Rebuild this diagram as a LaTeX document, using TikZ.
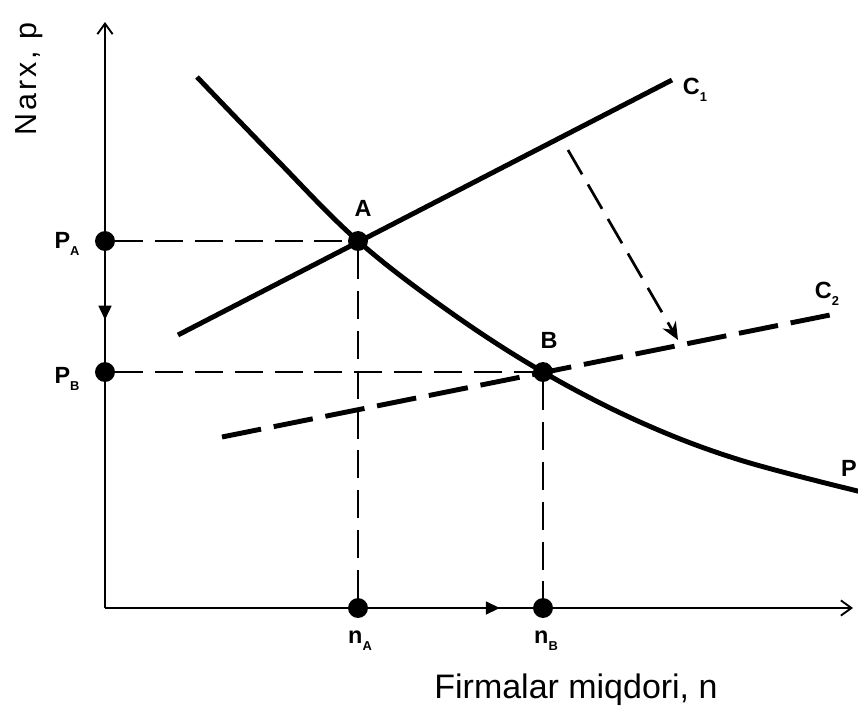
\documentclass[tikz,border=0pt]{standalone}
\usepackage{fontspec}
\setmainfont{Liberation Sans}
\newfontfamily\spacedfont[LetterSpace=10]{Liberation Sans}
\usetikzlibrary{arrows.meta,decorations.markings}
\newcommand{\lowidx}[1]{\raisebox{-0.3em}{\fontsize{11}{11}\selectfont #1}}

\begin{document}
\begin{tikzpicture}[x=0.03cm,y=-0.03cm,
  every node/.style={font=\fontsize{20}{22}\selectfont\bfseries},
  axis/.style={black,line width=1.6pt,-{Straight Barb[length=9pt,width=13pt]}},
  curve/.style={black,line width=4.2pt},
  shiftcurve/.style={curve,dash pattern=on 34pt off 11pt},
  guide/.style={black,line width=2.3pt,dash pattern=on 24pt off 10pt},
  shiftarrow/.style={guide,-{Stealth[length=15pt,width=13pt]}},
  dot/.style={circle,fill=black,inner sep=0pt,minimum size=17pt},
  move/.style={black,line width=1.6pt,postaction={decorate},
    decoration={markings,
      mark=at position #1 with {\arrow{Triangle[length=12pt,width=11pt]}}}},
  title/.style={font=\fontsize{29}{31}\selectfont}]
  % equilibrium points before and after the cost shift
  \def\ax{358}
  \def\ay{241}
  \def\bx{543}
  \def\by{372}

  \useasboundingbox (0,0) rectangle (858,717);

  \coordinate (O) at (105,608);
  \draw[axis] (O) -- (105,22);
  \draw[axis] (O) -- (853,608);
  \node[title,rotate=90] (ylab) at (29,79) {\fontsize{26}{28}\spacedfont Narx, p};
  \node[title] (xlab) at (576,690) {Firmalar miqdori, n};

  % price curve P and the two cost curves
  \draw[curve] plot[smooth,tension=0.6] coordinates
    {(197,77) (275,158) (\ax,\ay) (450,312) (\bx,\by) (640,422) (740,460) (870,494)};
  \draw[curve] (178,335) -- (672,80);
  \draw[shiftcurve] (222,437) -- (840,313);
  \coordinate (s1) at (568,150);
  \coordinate (s2) at (678,340);
  \draw[shiftarrow] (s1) -- (s2);

  % marked points on the curves and the axes
  \node[dot] (A) at (\ax,\ay) {};
  \node[dot] (B) at (\bx,\by) {};
  \node[dot] (PA) at (105,\ay) {};
  \node[dot] (PB) at (105,\by) {};
  \node[dot] (nA) at (\ax,608) {};
  \node[dot] (nB) at (\bx,608) {};

  \draw[guide] (PA) -- (A);
  \draw[guide] (PB) -- (B);
  \draw[guide] (A) -- (nA);
  \draw[guide] (B) -- (nB);
  \draw[move=0.62] (PA) -- (PB);
  \draw[move=0.8] (nA) -- (nB);

  \node (labA) at (363,208) {A};
  \node (labB) at (549,340) {B};
  \node (labPA) at (67,244) {P\lowidx{A}};
  \node (labPB) at (67,379) {P\lowidx{B}};
  \node (labnA) at (360,641) {n\lowidx{A}};
  \node (labnB) at (546,641) {n\lowidx{B}};
  \node (labC1) at (695,90) {C\lowidx{1}};
  \node (labC2) at (827,294) {C\lowidx{2}};
  \node[anchor=west,inner sep=0pt] (labP) at (841,468) {P};
\end{tikzpicture}
\end{document}
